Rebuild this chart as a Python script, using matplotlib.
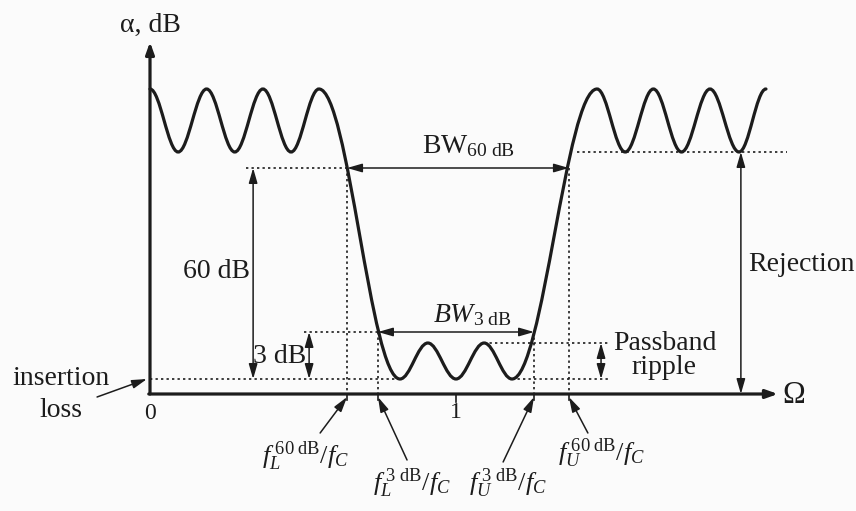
import matplotlib
matplotlib.use("Agg")
import matplotlib.pyplot as plt
from matplotlib.path import Path
from matplotlib.patches import PathPatch

plt.rcParams['font.family'] = ['Liberation Serif', 'DejaVu Serif']
plt.rcParams['mathtext.fontset'] = 'custom'
plt.rcParams['mathtext.rm'] = 'Liberation Serif'
plt.rcParams['mathtext.it'] = 'Liberation Serif:italic'
plt.rcParams['mathtext.bf'] = 'Liberation Serif:bold'

# Attenuation response extrema: normalised frequency (Omega) and level (schematic units)
stop_lo_freq = [0.0, 0.092, 0.185, 0.277, 0.369, 0.461, 0.552]
stop_lo_level = [30.5, 24.2, 30.5, 24.2, 30.5, 24.2, 30.5]
pass_freq = [0.817, 0.908, 1.0, 1.092, 1.183]
pass_level = [1.5, 5.1, 1.5, 5.1, 1.5]
stop_hi_freq = [1.461, 1.553, 1.645, 1.737, 1.830, 1.925, 2.013]
stop_hi_level = [30.5, 24.2, 30.5, 24.2, 30.5, 24.2, 30.5]

# Reference levels
insertion_level = 1.5
ripple_top = 5.1
level_3db = 6.2
level_60db = 22.6
rejection_level = 24.2

# Band-edge frequencies
f_lower_60 = 0.644
f_lower_3 = 0.745
f_upper_3 = 1.255
f_upper_60 = 1.369

# Axis tick labels
tick_values = [0, 1]
tick_labels = ['0', '1']

INK = '#1c1c1c'
BG = '#fbfbfb'

fig = plt.figure(figsize=(8.56, 5.11), dpi=100, facecolor=BG)
ax = fig.add_axes([0, 0, 1, 1])
ax.set_facecolor(BG)
ax.set_xlim(-0.4902, 2.3072)
ax.set_ylim(-11.7, 39.4)
ax.axis('off')


def smooth_response(freqs, levels):
    """Cubic Bezier segments with flat tangents at every extremum."""
    k = 0.3634
    verts = [(freqs[0], levels[0])]
    codes = [Path.MOVETO]
    for x0, y0, x1, y1 in zip(freqs[:-1], levels[:-1], freqs[1:], levels[1:]):
        dx = x1 - x0
        verts += [(x0 + k * dx, y0), (x1 - k * dx, y1), (x1, y1)]
        codes += [Path.CURVE4] * 3
    return Path(verts, codes)


freqs = stop_lo_freq + pass_freq + stop_hi_freq
levels = stop_lo_level + pass_level + stop_hi_level
ax.add_patch(PathPatch(smooth_response(freqs, levels), fill=False,
                       lw=2.3, color=INK, zorder=5, capstyle='round'))

dot = dict(color=INK, lw=1.2, linestyle=(0, (1.4, 1.9)), zorder=2)

# Horizontal guide lines
ax.plot([0, pass_freq[0]], [insertion_level] * 2, **dot)
ax.plot([0.314, f_lower_60], [level_60db] * 2, **dot)
ax.plot([0.503, f_lower_3], [level_3db] * 2, **dot)
ax.plot([pass_freq[3], 1.503], [ripple_top] * 2, **dot)
ax.plot([pass_freq[4], 1.503], [insertion_level] * 2, **dot)
ax.plot([1.395, 2.082], [rejection_level] * 2, **dot)

# Vertical guide lines at band edges
for f, lev in [(f_lower_60, level_60db), (f_lower_3, level_3db),
               (f_upper_3, level_3db), (f_upper_60, level_60db)]:
    ax.plot([f, f], [lev, 0], **dot)
    ax.plot([f, f], [0, -0.6], color=INK, lw=1.2, zorder=3)

# Axes with arrow heads
axis_arrow = dict(arrowstyle='-|>,head_length=0.7,head_width=0.25',
                  color=INK, lw=2.3, shrinkA=0, shrinkB=0, mutation_scale=10)
ax.annotate('', xy=(0, 35.2), xytext=(0, 0), arrowprops=axis_arrow, zorder=6)
ax.annotate('', xy=(2.052, 0), xytext=(-0.004, 0), arrowprops=axis_arrow, zorder=6)

# Ticks and tick labels
ax.plot([1, 1], [0, -0.8], color=INK, lw=1.2)
ax.text(tick_values[0], -2.5, tick_labels[0], ha='center', va='baseline',
        fontsize=17, color=INK)
ax.text(tick_values[1], -2.4, tick_labels[1], ha='center', va='baseline',
        fontsize=17, color=INK)

ax.text(0.003, 36.2, 'α, dB', ha='center', va='baseline', fontsize=20, color=INK)
ax.text(2.105, -0.9, 'Ω', ha='center', va='baseline', fontsize=22, color=INK)

thin = dict(color=INK, lw=1.1, shrinkA=0, shrinkB=0, mutation_scale=10)
both = dict(arrowstyle='<|-|>,head_length=0.9,head_width=0.26', **thin)
one = dict(arrowstyle='-|>,head_length=0.9,head_width=0.26', **thin)

# 60 dB and 3 dB spans
ax.annotate('', xy=(0.337, level_60db), xytext=(0.337, insertion_level), arrowprops=both)
ax.text(0.327, 11.6, '60 dB', ha='right', va='baseline', fontsize=20, color=INK)
ax.annotate('', xy=(0.520, level_3db), xytext=(0.520, insertion_level), arrowprops=both)
ax.text(0.510, 3.1, '3 dB', ha='right', va='baseline', fontsize=20, color=INK)

# Bandwidths
ax.annotate('', xy=(f_lower_60, level_60db), xytext=(f_upper_60, level_60db), arrowprops=both)
ax.text(0.889, 24.1, r'$\mathrm{BW}_{\mathrm{60\ dB}}$', ha='left', va='baseline',
        fontsize=20, color=INK)
ax.annotate('', xy=(f_lower_3, level_3db), xytext=(f_upper_3, level_3db), arrowprops=both)
ax.text(0.925, 7.2, r'$BW_{\mathrm{3\ dB}}$', ha='left', va='baseline',
        fontsize=20, color=INK)

# Passband ripple
ax.annotate('', xy=(1.474, ripple_top), xytext=(1.474, insertion_level), arrowprops=both)
ax.text(1.513, 4.4, 'Passband', ha='left', va='baseline', fontsize=20, color=INK)
ax.text(1.575, 2.0, 'ripple', ha='left', va='baseline', fontsize=20, color=INK)

# Rejection
ax.annotate('', xy=(1.931, rejection_level), xytext=(1.931, 0), arrowprops=both)
ax.text(1.954, 12.3, 'Rejection', ha='left', va='baseline', fontsize=20, color=INK)

# Insertion loss
ax.annotate('', xy=(-0.010, insertion_level), xytext=(-0.173, -0.3), arrowprops=one)
ax.text(-0.29, 0.9, 'insertion', ha='center', va='baseline', fontsize=20, color=INK)
ax.text(-0.29, -2.3, 'loss', ha='center', va='baseline', fontsize=20, color=INK)

# Band-edge frequency labels
edge_labels = [
    (f_lower_60, r'$f_L^{\;\mathrm{60\ dB}}/f_C$', (0.556, -3.9), (0.507, -6.2)),
    (f_lower_3, r'$f_L^{\;\mathrm{3\ dB}}/f_C$', (0.840, -6.6), (0.856, -8.9)),
    (f_upper_3, r'$f_U^{\;\mathrm{3\ dB}}/f_C$', (1.154, -6.8), (1.170, -8.9)),
    (f_upper_60, r'$f_U^{\;\mathrm{60\ dB}}/f_C$', (1.431, -3.9), (1.477, -5.9)),
]
for f, label, tail, pos in edge_labels:
    ax.annotate('', xy=(f, -0.3), xytext=tail, arrowprops=one)
    ax.text(pos[0], pos[1], label, ha='center', va='center', fontsize=19, color=INK)

fig.savefig('out.png', dpi=100, facecolor=BG)
